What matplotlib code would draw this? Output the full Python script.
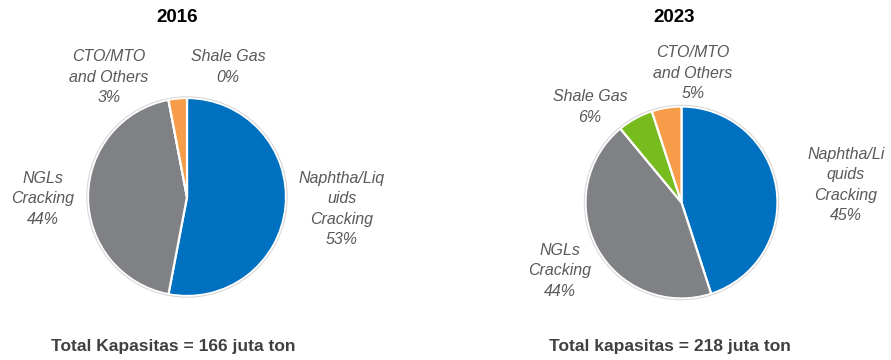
import matplotlib.pyplot as plt

plt.rcParams['font.family'] = ['Liberation Sans', 'DejaVu Sans']

# ---------- data ----------
segments = ["Naphtha/Liquids Cracking", "NGLs Cracking", "Shale Gas", "CTO/MTO and Others"]
share_2016 = [53, 44, 0, 3]
share_2023 = [45, 44, 6, 5]
colors = ["#0070C0", "#808184", "#78BB1E", "#F79C48"]

labels_2016 = ["Naphtha/Liq\nuids\nCracking", "NGLs\nCracking", "Shale Gas", "CTO/MTO\nand Others"]
labels_2023 = ["Naphtha/Li\nquids\nCracking", "NGLs\nCracking", "Shale Gas", "CTO/MTO\nand Others"]
totals = [166, 218]
years = ["2016", "2023"]

W, H = 891, 360

fig = plt.figure(figsize=(W / 100, H / 100), dpi=100)
ax = fig.add_axes([0, 0, 1, 1])


def py(y):
    # pixel row (from top) -> data y
    return H - y


def draw_pie(values, cx, cy, r):
    ax.pie(values, colors=colors, startangle=90, counterclock=False,
           center=(cx, py(cy)), radius=r, frame=False,
           wedgeprops=dict(edgecolor="white", linewidth=1.6))
    circ = plt.Circle((cx, py(cy)), r + 1.2, fill=False, edgecolor="#d9d9d9", linewidth=0.8)
    ax.add_patch(circ)


def label(x, y, txt, val):
    ax.text(x, py(y), f"{txt}\n{val}%", ha="center", va="center", fontsize=11.5,
            style="italic", color="#595959", linespacing=1.45)


# 2016
draw_pie(share_2016, 187, 197, 99)
label_pos_2016 = [(342, 209), (43, 199), (228, 67), (109, 77)]
for (x, y), txt, v in zip(label_pos_2016, labels_2016, share_2016):
    label(x, y, txt, v)

# 2023
draw_pie(share_2023, 681.5, 202.5, 96)
label_pos_2023 = [(846, 185), (560, 271), (590, 107), (693, 73)]
for (x, y), txt, v in zip(label_pos_2023, labels_2023, share_2023):
    label(x, y, txt, v)

# titles and totals
ax.text(177, py(18), years[0], ha="center", va="center", fontsize=13.5, fontweight="bold", color="black")
ax.text(674, py(18), years[1], ha="center", va="center", fontsize=13.5, fontweight="bold", color="black")
ax.text(173, py(347), f"Total Kapasitas = {totals[0]} juta ton", ha="center", va="center",
        fontsize=12.5, fontweight="bold", color="#404040")
ax.text(670, py(347), f"Total kapasitas = {totals[1]} juta ton", ha="center", va="center",
        fontsize=12.5, fontweight="bold", color="#404040")

ax.set_xlim(0, W)
ax.set_ylim(0, H)
ax.set_aspect("auto")
ax.axis("off")

fig.savefig("out.png", dpi=100)
